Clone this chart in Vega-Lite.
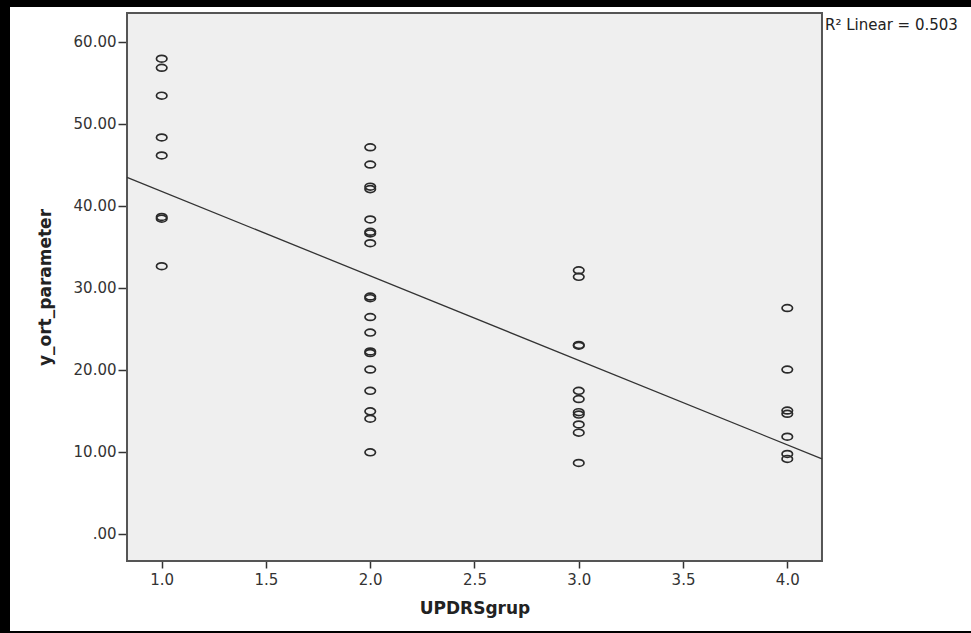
{
  "$schema": "https://vega.github.io/schema/vega-lite/v6.json",
  "width": 961,
  "height": 624,
  "autosize": "none",
  "padding": {"left": 10, "top": 7, "right": 0, "bottom": 2},
  "background": "#000000",
  "config": {
    "view": {"fill": "#ffffff", "stroke": null},
    "font": "DejaVu Sans",
    "axis": {
      "grid": false,
      "domain": false,
      "tickColor": "#333333",
      "tickWidth": 1.5,
      "labelColor": "#333333",
      "labelFont": "DejaVu Sans",
      "labelFontSize": 15,
      "titleFont": "DejaVu Sans",
      "titleFontWeight": "bold",
      "titleColor": "#222222",
      "titleFontSize": 17
    }
  },
  "datasets": {
    "pts": [
      {"UPDRSgrup": 1, "y_ort_parameter": 57.9},
      {"UPDRSgrup": 1, "y_ort_parameter": 56.8},
      {"UPDRSgrup": 1, "y_ort_parameter": 53.4},
      {"UPDRSgrup": 1, "y_ort_parameter": 48.3},
      {"UPDRSgrup": 1, "y_ort_parameter": 46.1},
      {"UPDRSgrup": 1, "y_ort_parameter": 38.6},
      {"UPDRSgrup": 1, "y_ort_parameter": 38.4},
      {"UPDRSgrup": 1, "y_ort_parameter": 32.6},
      {"UPDRSgrup": 2, "y_ort_parameter": 47.1},
      {"UPDRSgrup": 2, "y_ort_parameter": 45.0},
      {"UPDRSgrup": 2, "y_ort_parameter": 42.3},
      {"UPDRSgrup": 2, "y_ort_parameter": 42.0},
      {"UPDRSgrup": 2, "y_ort_parameter": 38.3},
      {"UPDRSgrup": 2, "y_ort_parameter": 36.8},
      {"UPDRSgrup": 2, "y_ort_parameter": 36.6},
      {"UPDRSgrup": 2, "y_ort_parameter": 35.4},
      {"UPDRSgrup": 2, "y_ort_parameter": 28.9},
      {"UPDRSgrup": 2, "y_ort_parameter": 28.7},
      {"UPDRSgrup": 2, "y_ort_parameter": 26.4},
      {"UPDRSgrup": 2, "y_ort_parameter": 24.5},
      {"UPDRSgrup": 2, "y_ort_parameter": 22.2},
      {"UPDRSgrup": 2, "y_ort_parameter": 22.0},
      {"UPDRSgrup": 2, "y_ort_parameter": 20.0},
      {"UPDRSgrup": 2, "y_ort_parameter": 17.4},
      {"UPDRSgrup": 2, "y_ort_parameter": 14.9},
      {"UPDRSgrup": 2, "y_ort_parameter": 14.0},
      {"UPDRSgrup": 2, "y_ort_parameter": 9.9},
      {"UPDRSgrup": 3, "y_ort_parameter": 32.1},
      {"UPDRSgrup": 3, "y_ort_parameter": 31.3},
      {"UPDRSgrup": 3, "y_ort_parameter": 23.0},
      {"UPDRSgrup": 3, "y_ort_parameter": 22.9},
      {"UPDRSgrup": 3, "y_ort_parameter": 17.4},
      {"UPDRSgrup": 3, "y_ort_parameter": 16.4},
      {"UPDRSgrup": 3, "y_ort_parameter": 14.8},
      {"UPDRSgrup": 3, "y_ort_parameter": 14.5},
      {"UPDRSgrup": 3, "y_ort_parameter": 13.3},
      {"UPDRSgrup": 3, "y_ort_parameter": 12.3},
      {"UPDRSgrup": 3, "y_ort_parameter": 8.6},
      {"UPDRSgrup": 4, "y_ort_parameter": 27.5},
      {"UPDRSgrup": 4, "y_ort_parameter": 20.0},
      {"UPDRSgrup": 4, "y_ort_parameter": 15.0},
      {"UPDRSgrup": 4, "y_ort_parameter": 14.6},
      {"UPDRSgrup": 4, "y_ort_parameter": 11.8},
      {"UPDRSgrup": 4, "y_ort_parameter": 9.7},
      {"UPDRSgrup": 4, "y_ort_parameter": 9.1}
    ],
    "one": [{"label": "R² Linear = 0.503"}]
  },
  "layer": [
    {
      "data": {"name": "one"},
      "mark": {"type": "rect", "fill": "#efefef", "stroke": "#555555", "strokeWidth": 2},
      "encoding": {
        "x": {"datum": 0.8336, "type": "quantitative",
              "scale": {"domain": [0.2725, 4.881], "nice": false, "zero": false},
              "axis": {"title": "UPDRSgrup", "values": [1, 1.5, 2, 2.5, 3, 3.5, 4], "format": ".1f", "offset": -70, "tickSize": 7, "labelPadding": 4, "titleX": 464.5, "titleY": 47, "titleBaseline": "middle", "titleAlign": "center"}},
        "x2": {"datum": 4.1664},
        "y": {"datum": -3.35, "type": "quantitative",
              "scale": {"domain": [-11.89, 64.21], "nice": false, "zero": false},
              "axis": {"title": "y_ort_parameter", "values": [0, 10, 20, 30, 40, 50, 60], "labelExpr": "datum.value == 0 ? '.00' : format(datum.value, '.2f')", "offset": -117, "tickSize": 9, "labelPadding": 2, "titleX": -82, "titleY": 280, "titleAngle": -90, "titleBaseline": "middle", "titleAlign": "center"}},
        "y2": {"datum": 63.48}
      }
    },
    {
      "data": {"name": "pts"},
      "mark": {"type": "point", "shape": "M-1,0A1,0.65,0,1,1,1,0A1,0.65,0,1,1,-1,0Z", "filled": false, "stroke": "#2a2a2a", "strokeWidth": 1.7, "size": 110, "opacity": 1},
      "encoding": {
        "x": {"field": "UPDRSgrup", "type": "quantitative",
              "scale": {"domain": [0.2725, 4.881], "nice": false, "zero": false},
              "axis": {"title": "UPDRSgrup", "values": [1, 1.5, 2, 2.5, 3, 3.5, 4], "format": ".1f", "offset": -70, "tickSize": 7, "labelPadding": 4, "titleX": 464.5, "titleY": 47, "titleBaseline": "middle", "titleAlign": "center"}},
        "y": {"field": "y_ort_parameter", "type": "quantitative",
              "scale": {"domain": [-11.89, 64.21], "nice": false, "zero": false},
              "axis": {"title": "y_ort_parameter", "values": [0, 10, 20, 30, 40, 50, 60], "labelExpr": "datum.value == 0 ? '.00' : format(datum.value, '.2f')", "offset": -117, "tickSize": 9, "labelPadding": 2, "titleX": -82, "titleY": 280, "titleAngle": -90, "titleBaseline": "middle", "titleAlign": "center"}}
      }
    },
    {
      "data": {"name": "pts"},
      "transform": [
        {"regression": "y_ort_parameter", "on": "UPDRSgrup", "method": "linear", "extent": [0.8336, 4.1664]}
      ],
      "mark": {"type": "line", "stroke": "#333333", "strokeWidth": 1.3},
      "encoding": {
        "x": {"field": "UPDRSgrup", "type": "quantitative",
              "scale": {"domain": [0.2725, 4.881], "nice": false, "zero": false},
              "axis": {"title": "UPDRSgrup", "values": [1, 1.5, 2, 2.5, 3, 3.5, 4], "format": ".1f", "offset": -70, "tickSize": 7, "labelPadding": 4, "titleX": 464.5, "titleY": 47, "titleBaseline": "middle", "titleAlign": "center"}},
        "y": {"field": "y_ort_parameter", "type": "quantitative",
              "scale": {"domain": [-11.89, 64.21], "nice": false, "zero": false},
              "axis": {"title": "y_ort_parameter", "values": [0, 10, 20, 30, 40, 50, 60], "labelExpr": "datum.value == 0 ? '.00' : format(datum.value, '.2f')", "offset": -117, "tickSize": 9, "labelPadding": 2, "titleX": -82, "titleY": 280, "titleAngle": -90, "titleBaseline": "middle", "titleAlign": "center"}}
      }
    },
    {
      "data": {"name": "one"},
      "mark": {"type": "text", "align": "left", "baseline": "middle", "dx": 3, "dy": 12, "fontSize": 15, "color": "#222222", "font": "DejaVu Sans"},
      "encoding": {
        "x": {"datum": 4.1664, "type": "quantitative"},
        "y": {"datum": 63.48, "type": "quantitative"},
        "text": {"field": "label"}
      }
    }
  ]
}
